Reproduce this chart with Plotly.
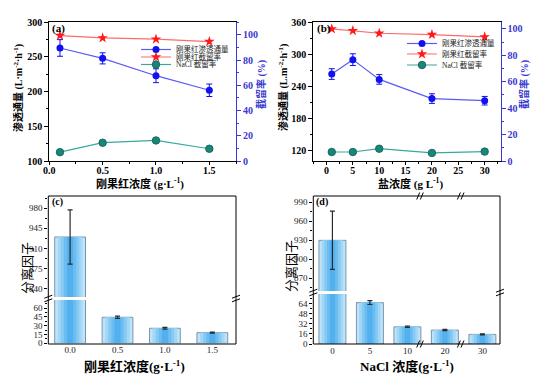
import plotly.graph_objects as go

# ---------------- data ----------------
# (a) Congo red concentration
cr_conc = [0.1, 0.5, 1.0, 1.5]
cr_flux = [263, 248, 223, 202]
cr_flux_err = [12, 8, 10, 9]
cr_rej_a = [99.5, 97.6, 96.6, 94.7]
nacl_rej_a = [7.0, 14.5, 16.3, 9.7]

# (b) salt concentration
salt_conc = [1, 5, 10, 20, 30]
salt_flux = [263, 290, 253, 217, 213]
salt_flux_err = [10, 11, 9, 9, 8]
cr_rej_b = [100.0, 98.7, 96.7, 95.7, 93.9]
nacl_rej_b = [6.8, 6.8, 9.3, 6.1, 7.1]

# (c) separation factor vs Congo red conc.
sf_c_labels = ["0.0", "0.5", "1.0", "1.5"]
sf_c = [930, 44.5, 25.7, 18.2]
sf_c_err = [47, 2, 1.5, 1]

# (d) separation factor vs NaCl conc.
sf_d_labels = ["0", "5", "10", "20", "30"]
sf_d = [930, 65.4, 27.1, 22, 15.2]
sf_d_err = [46, 3, 1, 1, 0.8]

legend_names = ["刚果红渗透通量", "刚果红截留率", "NaCl 截留率"]

# ---------------- styles ----------------
OFF = 8                      # page body margin of the browser
W, H = 539 - OFF, 378 - OFF
SERIF = "Liberation Serif, Noto Sans CJK SC, serif"
BLUE_AX = "#3a3ad0"
FLUX_C = "#1010f0"
FLUX_L = "#5a5af5"
REJ_C = "#ff1a1a"
REJ_L = "#ff6a6a"
NACL_C = "#17877a"
NACL_L = "#3aa89a"


def px(x):
    return (x - OFF) / W


def py(y):
    return 1 - (y - OFF) / H


fig = go.Figure()


def add_series(x, y, name, xa, ya, kind, leg, err=None):
    if kind == "flux":
        line = dict(color=FLUX_L, width=1.2)
        marker = dict(color=FLUX_C, size=7, symbol="circle")
    elif kind == "rej":
        line = dict(color=REJ_L, width=1.2)
        marker = dict(color=REJ_C, size=8, symbol="star")
    else:
        line = dict(color=NACL_L, width=1.2)
        marker = dict(color=NACL_C, size=7.5, symbol="circle", line=dict(color="#0d5a50", width=0.8))
    fig.add_trace(go.Scatter(
        x=x, y=y, name=name, xaxis=xa, yaxis=ya, mode="lines+markers", line=line, marker=marker,
        error_y=dict(type="data", array=err, color=FLUX_C, thickness=1, width=3) if err else None,
        legend=leg))


# ---- panel (a)
add_series(cr_conc, cr_flux, legend_names[0], "x", "y", "flux", "legend", cr_flux_err)
add_series(cr_conc, cr_rej_a, legend_names[1], "x", "y2", "rej", "legend2")
add_series(cr_conc, nacl_rej_a, legend_names[2], "x", "y2", "nacl", "legend3")
# ---- panel (b)
add_series(salt_conc, salt_flux, legend_names[0], "x2", "y3", "flux", "legend4", salt_flux_err)
add_series(salt_conc, cr_rej_b, legend_names[1], "x2", "y4", "rej", "legend5")
add_series(salt_conc, nacl_rej_b, legend_names[2], "x2", "y4", "nacl", "legend6")


# ---- bar panels (c), (d): layered bars to imitate the glossy gradient
def add_bars(labels, values, errs, xa, ya, w):
    layers = [(1.00, "#bfe4fa", dict(color="#5f7f98", width=0.8)),
              (0.80, "#a2d7f7", dict(width=0)),
              (0.60, "#86caf4", dict(width=0)),
              (0.40, "#6bbdf1", dict(width=0)),
              (0.20, "#52b0ee", dict(width=0))]
    for i, (f, col, ln) in enumerate(layers):
        fig.add_trace(go.Bar(x=labels, y=values, xaxis=xa, yaxis=ya, width=w * f,
                             marker=dict(color=col, line=ln), showlegend=False,
                             error_y=dict(type="data", array=errs, color="#2a2a2a",
                                          thickness=1.2, width=2.5) if i == len(layers) - 1 else None))


add_bars(sf_c_labels, sf_c, sf_c_err, "x3", "y5", 0.65)
add_bars(sf_c_labels, sf_c, sf_c_err, "x3", "y6", 0.65)
add_bars(sf_d_labels, sf_d, sf_d_err, "x4", "y7", 0.72)
add_bars(sf_d_labels, sf_d, sf_d_err, "x4", "y8", 0.72)

# ---------------- axes ----------------
tickfont_b = dict(family=SERIF, size=10, color="black", weight="bold")
tickfont_blue = dict(family=SERIF, size=10, color=BLUE_AX, weight="bold")
tickfont_n = dict(family=SERIF, size=9, color="#222")

common = dict(showgrid=False, zeroline=False, ticks="outside", ticklen=4, tickwidth=1,
              tickcolor="black", automargin=False)

dom_a_x = [px(49.3), px(236)]
dom_b_x = [px(313.3), px(500.5)]
dom_ab_y = [py(161), py(22.3)]


def leg(x, y):
    return dict(x=px(x), y=py(y), xanchor="left", yanchor="middle", bgcolor="rgba(0,0,0,0)",
                font=dict(family=SERIF, size=7.5, color="#222"), itemwidth=30,
                borderwidth=0, tracegroupgap=0)


fig.update_layout(
    xaxis=dict(domain=dom_a_x, range=[0, 1.75], anchor="y", tickvals=[0, 0.5, 1.0, 1.5],
               ticktext=["0.0", "0.5", "1.0", "1.5"], showline=True, linecolor="black",
               mirror=True, tickfont=tickfont_b, ticklabelstandoff=-3,
               minor=dict(ticks="outside", ticklen=2, dtick=0.25, tickcolor="black"),
               **{**common, "ticklen": 3}),
    yaxis=dict(domain=dom_ab_y, range=[100, 300], anchor="x", dtick=50, showline=True,
               linecolor="black", tickfont=tickfont_b,
               minor=dict(ticks="outside", ticklen=2, dtick=25, tickcolor="black"), **common),
    yaxis2=dict(range=[0, 110], overlaying="y", side="right", anchor="x", dtick=20,
                showline=True, linecolor=BLUE_AX, tickfont=tickfont_blue,
                minor=dict(ticks="outside", ticklen=2, dtick=10, tickcolor=BLUE_AX),
                **{**common, "tickcolor": BLUE_AX}),
    xaxis2=dict(domain=dom_b_x, range=[-2.5, 33], anchor="y3", dtick=5, showline=True,
                linecolor="black", mirror=True, tickfont=tickfont_b, ticklabelstandoff=-3,
                minor=dict(ticks="outside", ticklen=2, dtick=2.5, tickcolor="black"),
                **{**common, "ticklen": 3}),
    yaxis3=dict(domain=dom_ab_y, range=[100, 360], anchor="x2", tickvals=[120, 180, 240, 300, 360],
                showline=True, linecolor="black", tickfont=tickfont_b,
                minor=dict(ticks="outside", ticklen=2, tickvals=[150, 210, 270, 330], tickcolor="black"),
                **common),
    yaxis4=dict(range=[0, 105], overlaying="y3", side="right", anchor="x2", dtick=20,
                showline=True, linecolor=BLUE_AX, tickfont=tickfont_blue,
                minor=dict(ticks="outside", ticklen=2, dtick=10, tickcolor=BLUE_AX),
                **{**common, "tickcolor": BLUE_AX}),
    # (c)
    xaxis3=dict(domain=[px(48.3), px(236)], range=[-0.46, 3.5], anchor="y5", type="category",
                showline=False, tickfont=tickfont_n, showgrid=False, zeroline=False, ticks="",
                automargin=False),
    yaxis5=dict(domain=[py(343.3), py(300)], range=[0, 74], anchor="x3", tickvals=[0, 15, 30, 45, 60],
                showline=False, tickfont=tickfont_n,
                minor=dict(ticks="outside", ticklen=2, tickvals=[7.5, 22.5, 37.5, 52.5, 67.5],
                           tickcolor="black"), **{**common, "ticklen": 3}),
    yaxis6=dict(domain=[py(297), py(196)], range=[826, 1001], anchor="x3",
                tickvals=[840, 875, 910, 945, 980], showline=False, tickfont=tickfont_n,
                minor=dict(ticks="outside", ticklen=2, tickvals=[857.5, 892.5, 927.5, 962.5, 997.5],
                           tickcolor="black"), **{**common, "ticklen": 3}),
    # (d)
    xaxis4=dict(domain=[px(313.3), px(500)], range=[-0.51, 4.47], anchor="y7", type="category",
                showline=False, tickfont=tickfont_n, showgrid=False, zeroline=False, ticks="",
                automargin=False),
    yaxis7=dict(domain=[py(344), py(294)], range=[0, 79], anchor="x4", tickvals=[0, 16, 32, 48, 64],
                showline=False, tickfont=tickfont_n,
                minor=dict(ticks="outside", ticklen=2, tickvals=[8, 24, 40, 56, 72], tickcolor="black"),
                **{**common, "ticklen": 3}),
    yaxis8=dict(domain=[py(291), py(196)], range=[850, 1000], anchor="x4",
                tickvals=[870, 900, 930, 960, 990], showline=False, tickfont=tickfont_n,
                minor=dict(ticks="outside", ticklen=2, tickvals=[855, 885, 915, 945, 975],
                           tickcolor="black"), **{**common, "ticklen": 3}),
    barmode="overlay",
    width=W, height=H,
    margin=dict(l=0, r=0, t=0, b=0, autoexpand=False),
    paper_bgcolor="white", plot_bgcolor="white",
    legend=leg(136, 49.5), legend2=leg(136, 57), legend3=leg(136, 64.5),
    legend4=leg(402, 43.5), legend5=leg(402, 54), legend6=leg(402, 65),
)

# ---------------- shapes: frames and break marks ----------------
shapes = []
for (x0, x1) in [(48.3, 236), (313.3, 500)]:
    shapes.append(dict(type="rect", xref="paper", yref="paper", x0=px(x0), x1=px(x1),
                       y0=py(344), y1=py(196), line=dict(color="black", width=1)))


def slash_pair(xc, yc, horizontal=True):
    out = []
    for d in (-1.8, 1.8):
        if horizontal:  # break on a vertical axis line
            out.append(dict(type="line", xref="paper", yref="paper",
                            x0=px(xc - 4), y0=py(yc + d + 1.5), x1=px(xc + 4), y1=py(yc + d - 1.5),
                            line=dict(color="black", width=1)))
        else:  # break on a horizontal axis line
            out.append(dict(type="line", xref="paper", yref="paper",
                            x0=px(xc + d - 1.5), y0=py(yc + 3.5), x1=px(xc + d + 1.5), y1=py(yc - 3.5),
                            line=dict(color="black", width=1)))
    return out


for xc in (48.3, 236):
    shapes += slash_pair(xc, 298.5)
for xc in (313.3, 500):
    shapes += slash_pair(xc, 292.5)
for xc in (420, 460.7):
    for yc in (196, 344):
        shapes += slash_pair(xc, yc, horizontal=False)
fig.update_layout(shapes=shapes)

# ---------------- annotations ----------------
ann = []


def add_text(text, x, y, size, color="black", angle=0, xanchor="center", bold=True):
    ann.append(dict(text=f"<b>{text}</b>" if bold else text, x=px(x), y=py(y), xref="paper",
                    yref="paper", showarrow=False, textangle=angle, xanchor=xanchor,
                    yanchor="middle", font=dict(family=SERIF, size=size, color=color)))


add_text("(a)", 50, 29, 11, xanchor="left")
add_text("(b)", 315, 29, 11, xanchor="left")
add_text("(c)", 50, 202, 10, xanchor="left")
add_text("(d)", 314, 202, 10, xanchor="left")

add_text("刚果红浓度 (g·L<sup>-1</sup>)", 140, 183.5, 11)
add_text("盐浓度 (g L<sup>-1</sup>)", 410, 183.5, 11)
add_text("渗透通量 (L·m<sup>-2</sup>·h<sup>-1</sup>)", 18, 88, 10, angle=-90)
add_text("渗透通量 (L.m<sup>-2</sup>·h<sup>-1</sup>)", 283, 88, 10, angle=-90)
add_text("截留率 (%)", 261, 85, 10, color=BLUE_AX, angle=-90)
add_text("截留率 (%)", 524, 85, 10, color=BLUE_AX, angle=-90)

add_text("分离因子", 27, 268, 13, angle=-90, bold=False)
add_text("分离因子", 291, 266, 13, angle=-90, bold=False)
add_text("刚果红浓度(g·L<sup>-1</sup>)", 134, 366, 13)
add_text("NaCl 浓度(g·L<sup>-1</sup>)", 407, 366, 13)

fig.update_layout(annotations=ann)

fig.write_html("out.html")
